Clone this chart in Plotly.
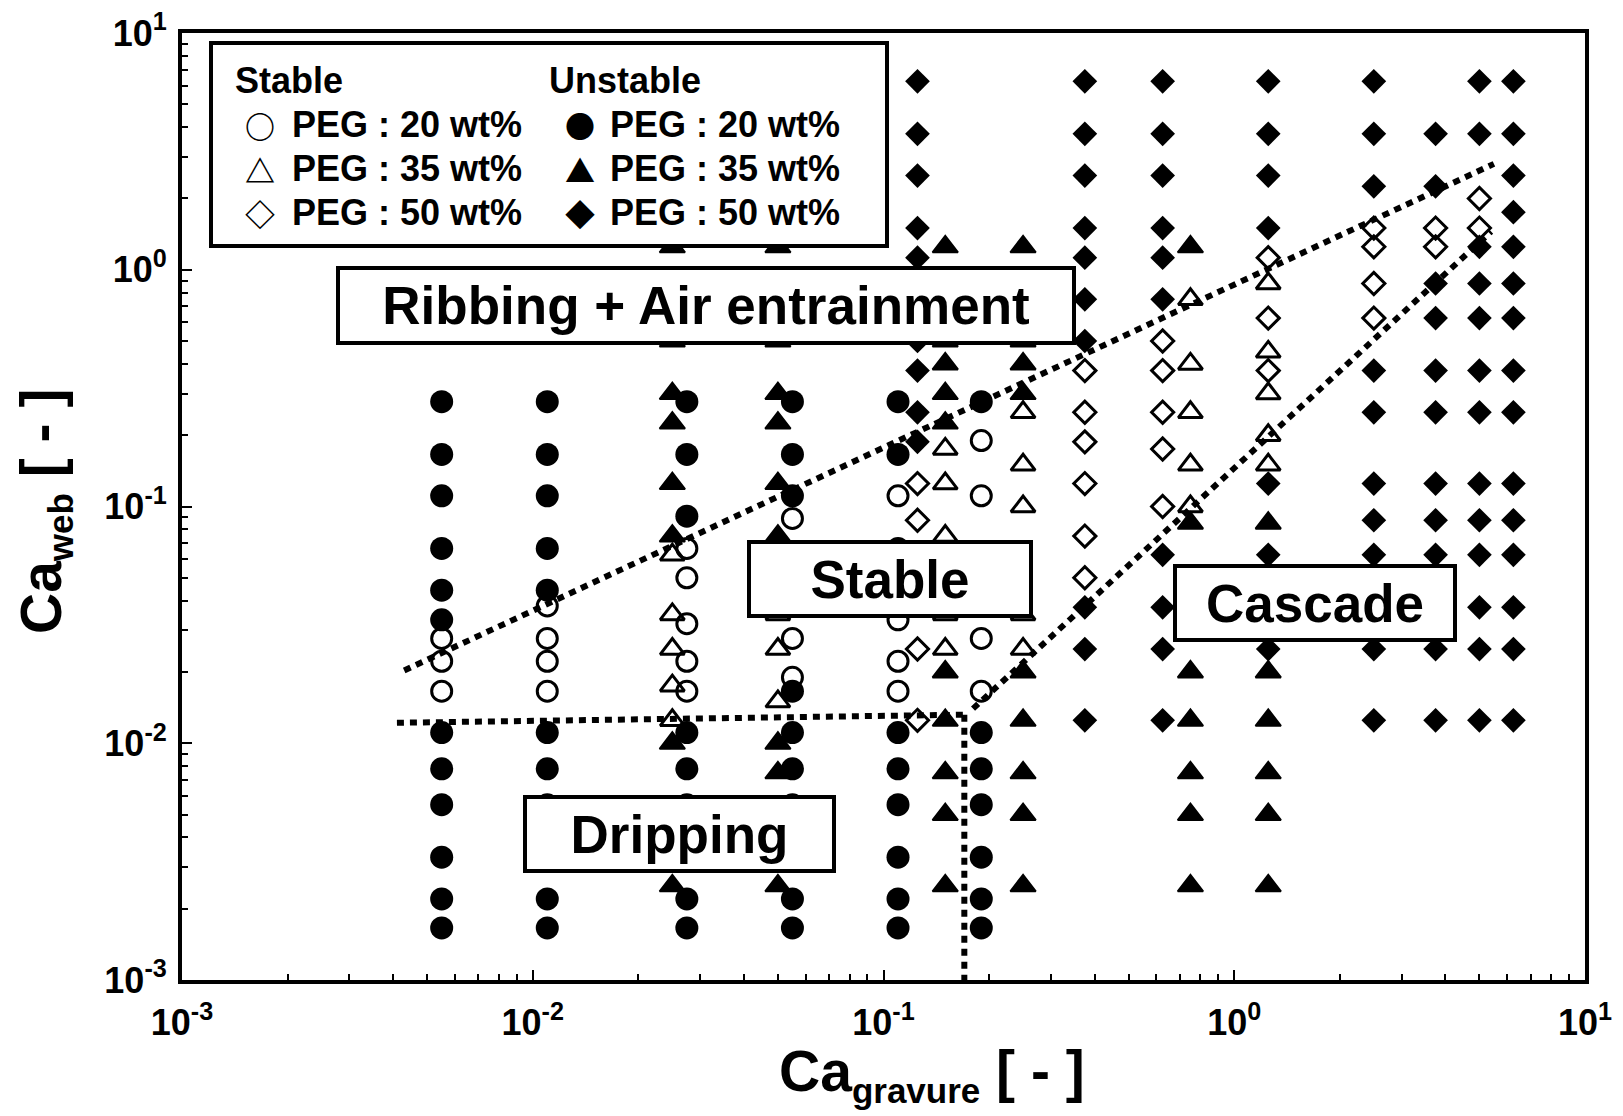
import plotly.graph_objects as go

# ---------------- data ----------------
# PEG 20 wt% (circles): Ca_gravure columns and Ca_web values per column
peg20_ca_gravure = [0.0055, 0.011, 0.0275, 0.055, 0.11, 0.19]
peg20_stable = [
    [0.0277, 0.0222, 0.0166],
    [0.038, 0.0277, 0.0222, 0.0166],
    [0.0665, 0.050, 0.032, 0.0222, 0.0166],
    [0.089, 0.0277, 0.019],
    [0.111, 0.0665, 0.0332, 0.0222, 0.0166],
    [0.19, 0.111, 0.0277, 0.0166],
]
peg20_unstable = [
    [0.277, 0.166, 0.111, 0.0665, 0.0443, 0.0332, 0.0111, 0.0078, 0.0055, 0.0033, 0.0022, 0.00166],
    [0.277, 0.166, 0.111, 0.0665, 0.0443, 0.0111, 0.0078, 0.0055, 0.0033, 0.0022, 0.00166],
    [0.277, 0.166, 0.091, 0.0111, 0.0078, 0.0055, 0.0033, 0.0022, 0.00166],
    [0.277, 0.166, 0.111, 0.0166, 0.0111, 0.0078, 0.0055, 0.0033, 0.0022, 0.00166],
    [0.277, 0.166, 0.0111, 0.0078, 0.0055, 0.0033, 0.0022, 0.00166],
    [0.277, 0.0111, 0.0078, 0.0055, 0.0033, 0.0022, 0.00166],
]

# PEG 35 wt% (triangles)
peg35_ca_gravure = [0.025, 0.05, 0.15, 0.25, 0.75, 1.25]
peg35_stable = [
    [0.0625, 0.035, 0.025, 0.0175, 0.0125],
    [0.035, 0.025, 0.015],
    [0.175, 0.125, 0.075, 0.035, 0.025],
    [0.25, 0.15, 0.1, 0.035, 0.025],
    [0.75, 0.4, 0.25, 0.15, 0.1],
    [0.875, 0.45, 0.3, 0.2, 0.15],
]
peg35_unstable = [
    [1.25, 0.5, 0.3, 0.225, 0.125, 0.075, 0.01, 0.005, 0.0025],
    [1.25, 0.5, 0.3, 0.225, 0.125, 0.075, 0.01, 0.0075, 0.005, 0.0025],
    [1.25, 0.5, 0.4, 0.3, 0.225, 0.02, 0.0125, 0.0075, 0.005, 0.0025],
    [1.25, 0.5, 0.4, 0.3, 0.02, 0.0125, 0.0075, 0.005, 0.0025],
    [1.25, 0.085, 0.02, 0.0125, 0.0075, 0.005, 0.0025],
    [0.085, 0.02, 0.0125, 0.0075, 0.005, 0.0025],
]

# PEG 50 wt% (diamonds)
peg50_ca_gravure = [0.125, 0.375, 0.625, 1.25, 2.5, 3.75, 5.0, 6.25]
peg50_stable = [
    [0.125, 0.0875, 0.025, 0.0125],
    [0.375, 0.25, 0.1875, 0.125, 0.075, 0.05],
    [0.5, 0.375, 0.25, 0.175, 0.1],
    [1.125, 0.625, 0.375],
    [1.5, 1.25, 0.875, 0.625],
    [1.5, 1.25],
    [2.0, 1.5],
    [],
]
peg50_unstable = [
    [6.25, 3.75, 2.5, 1.5, 1.125, 0.5, 0.375, 0.25, 0.1875],
    [6.25, 3.75, 2.5, 1.5, 1.125, 0.75, 0.5, 0.0375, 0.025, 0.0125],
    [6.25, 3.75, 2.5, 1.5, 1.125, 0.75, 0.0625, 0.0375, 0.025, 0.0125],
    [6.25, 3.75, 2.5, 1.5, 0.125, 0.0625, 0.025],
    [6.25, 3.75, 2.25, 0.375, 0.25, 0.125, 0.0875, 0.0625, 0.025, 0.0125],
    [3.75, 2.25, 0.875, 0.625, 0.375, 0.25, 0.125, 0.0875, 0.0625, 0.025, 0.0125],
    [6.25, 3.75, 1.25, 0.875, 0.625, 0.375, 0.25, 0.125, 0.0875, 0.0625, 0.0375, 0.025, 0.0125],
    [6.25, 3.75, 2.5, 1.75, 1.25, 0.875, 0.625, 0.375, 0.25, 0.125, 0.0875, 0.0625, 0.0375, 0.025, 0.0125],
]

# Regime boundaries (dotted lines)
boundary_upper_x = [0.0043, 5.5]
boundary_upper_y = [0.0203, 2.8]
boundary_cascade_x = [0.18, 5.4]
boundary_cascade_y = [0.014, 1.45]
boundary_drip_x = [0.0041, 0.17]
boundary_drip_y = [0.0122, 0.0132]
boundary_vert_x = [0.17, 0.17]
boundary_vert_y = [0.0132, 0.001]

decade_ticks = [0.001, 0.01, 0.1, 1, 10]
decade_exponents = ["-3", "-2", "-1", "0", "1"]

# ---------------- figure ----------------
FONT = "Liberation Sans, Arial, sans-serif"
W, H = 1623, 1116
L, R, T, B = 182, 38, 33, 136
PW, PH = W - L - R, H - T - B


def px_x(px):
    return (px - L) / PW


def px_y(py):
    return (H - B - py) / PH


def expand(cols, groups):
    xs, ys = [], []
    for xv, yl in zip(cols, groups):
        xs += [xv] * len(yl)
        ys += yl
    return xs, ys


fig = go.Figure()

series = [
    (peg50_ca_gravure, peg50_unstable, "diamond", 19, 0),
    (peg35_ca_gravure, peg35_unstable, "triangle-up", 22, 2),
    (peg20_ca_gravure, peg20_unstable, "circle", 23, 0),
    (peg50_ca_gravure, peg50_stable, "diamond-open", 17, 3),
    (peg35_ca_gravure, peg35_stable, "triangle-up-open", 21, 3),
    (peg20_ca_gravure, peg20_stable, "circle-open", 20, 3),
]
for cols, groups, sym, size, lw in series:
    xs, ys = expand(cols, groups)
    fig.add_trace(go.Scatter(
        x=xs, y=ys, mode="markers", showlegend=False,
        marker=dict(symbol=sym, size=size, color="black",
                    line=dict(color="black", width=lw)),
    ))

for bx, by in [(boundary_upper_x, boundary_upper_y),
               (boundary_cascade_x, boundary_cascade_y),
               (boundary_drip_x, boundary_drip_y),
               (boundary_vert_x, boundary_vert_y)]:
    fig.add_trace(go.Scatter(
        x=bx, y=by, mode="lines", showlegend=False,
        line=dict(color="black", width=6, dash="7px,6px"),
    ))

tick_labels = ["<b>10<sup>%s</sup></b>" % e for e in decade_exponents]
minor_vals = [k * 10 ** e for e in range(-3, 1) for k in range(2, 10)]
axis_common = dict(
    type="log", range=[-3, 1], automargin=False,
    tickmode="array", tickvals=decade_ticks, ticktext=tick_labels,
    ticks="inside", ticklen=10, tickwidth=2, tickcolor="black",
    showline=True, linewidth=4, linecolor="black", mirror=True,
    showgrid=False, zeroline=False,
    tickfont=dict(family=FONT, size=36, color="black", weight="bold"),
    minor=dict(ticks="inside", ticklen=6, tickwidth=2, tickcolor="black",
               tickmode="array", tickvals=minor_vals, showgrid=False),
)
fig.update_xaxes(**axis_common, ticklabelstandoff=8)
fig.update_yaxes(**axis_common, ticklabelstandoff=4)

annotations = []

# axis titles
title_font = dict(family=FONT, size=57, color="black", weight="bold")
annotations.append(dict(
    text="Ca<sub><span style='font-size:35px'>gravure</span></sub> [ - ]",
    xref="paper", yref="paper", x=px_x(932), y=px_y(1074),
    xanchor="center", yanchor="middle", showarrow=False, font=title_font))
annotations.append(dict(
    text="Ca<sub><span style='font-size:35px'>web</span></sub> [ - ]",
    xref="paper", yref="paper", x=px_x(45), y=px_y(512), textangle=-90,
    xanchor="center", yanchor="middle", showarrow=False, font=title_font))

# regime labels in framed boxes
for text, cx, cy, bw, bh in [
    ("Ribbing + Air entrainment", 706, 305.5, 740, 79),
    ("Stable", 890, 579, 286, 78),
    ("Cascade", 1315, 603, 284, 78),
    ("Dripping", 679.5, 834, 313, 78),
]:
    annotations.append(dict(
        text=text, xref="paper", yref="paper", x=px_x(cx), y=px_y(cy),
        xanchor="center", yanchor="middle", showarrow=False,
        width=bw - 8, height=bh - 8, borderpad=0, borderwidth=4,
        bordercolor="black", bgcolor="white",
        font=dict(family=FONT, size=53, color="black", weight="bold"),
    ))

# legend block
legend_font = dict(family=FONT, size=36, color="black", weight="bold")
glyph_font = dict(family="Noto Sans CJK JP", size=30, color="black", weight=900)
annotations.append(dict(text="Stable", xref="paper", yref="paper", x=px_x(233), y=px_y(80),
                        xanchor="left", yanchor="middle", showarrow=False, font=legend_font))
annotations.append(dict(text="Unstable", xref="paper", yref="paper", x=px_x(547), y=px_y(80),
                        xanchor="left", yanchor="middle", showarrow=False, font=legend_font))
legend_rows = [("○", "●", "PEG : 20 wt%", 125),
               ("△", "▲", "PEG : 35 wt%", 169),
               ("◇", "◆", "PEG : 50 wt%", 213)]
for g_open, g_fill, label, ry in legend_rows:
    for gx, glyph, tx in [(260, g_open, 290), (580, g_fill, 608)]:
        annotations.append(dict(text=glyph, xref="paper", yref="paper", x=px_x(gx), y=px_y(ry),
                                xanchor="center", yanchor="middle", showarrow=False,
                                font=glyph_font))
        annotations.append(dict(text=label, xref="paper", yref="paper", x=px_x(tx), y=px_y(ry),
                                xanchor="left", yanchor="middle", showarrow=False, font=legend_font))

fig.update_layout(
    width=W, height=H,
    margin=dict(l=L, r=R, t=T, b=B, pad=0, autoexpand=False),
    paper_bgcolor="white", plot_bgcolor="white",
    showlegend=False,
    annotations=annotations,
    shapes=[dict(type="rect", xref="paper", yref="paper",
                 x0=px_x(211), x1=px_x(887), y0=px_y(246), y1=px_y(43),
                 line=dict(color="black", width=4), fillcolor="white", layer="above")],
)

fig.write_html("out.html")
